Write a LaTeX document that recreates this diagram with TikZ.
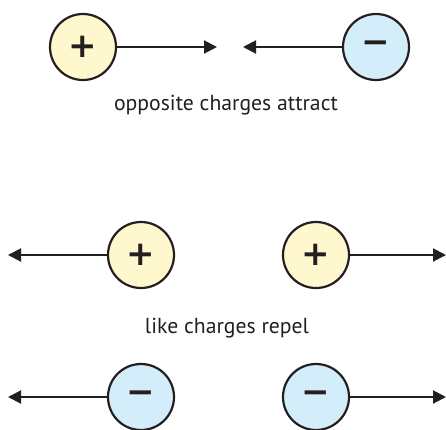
\documentclass[tikz,border=0pt]{standalone}
\usepackage{fontspec}
\setmainfont{PT Sans}
\newfontfamily\signfont{DejaVu Sans}
\usetikzlibrary{arrows.meta}
\definecolor{posfill}{HTML}{FFF8CF}
\definecolor{negfill}{HTML}{D3EDFA}
\definecolor{ink}{HTML}{231F20}
\begin{document}
\begin{tikzpicture}[x=1pt,y=-1pt,
  charge/.style={circle,draw=ink,line width=2.2pt,minimum size=66pt,inner sep=0pt,text=ink,
    font=\signfont\bfseries\fontsize{34}{34}\selectfont},
  posc/.style={charge,fill=posfill},
  negc/.style={charge,fill=negfill},
  force/.style={draw=ink,line width=2pt,-{Triangle[length=13pt,width=13pt]}},
  lbl/.style={text=ink,font=\fontsize{21.7}{24}\selectfont}]
\useasboundingbox (0,0) rectangle (446,429);
% attraction
\node[posc] (p1) at (83,47) {+};
\node[negc] (n1) at (376,47) {−};
\coordinate (t1) at (217,47);
\coordinate (t2) at (243,47);
\draw[force] (p1) -- (t1);
\draw[force] (n1) -- (t2);
\node[lbl] (l1) at (226,105) {opposite charges attract};
% repulsion, positive
\node[posc] (p2) at (141,255) {+};
\node[posc] (p3) at (316,255) {+};
\coordinate (t3) at (8,255);
\coordinate (t4) at (446,255);
\draw[force] (p2) -- (t3);
\draw[force] (p3) -- (t4);
\node[lbl] (l2) at (227,328) {like charges repel};
% repulsion, negative
\node[negc] (n2) at (141,397) {−};
\node[negc] (n3) at (316,397) {−};
\coordinate (t5) at (8,397);
\coordinate (t6) at (446,397);
\draw[force] (n2) -- (t5);
\draw[force] (n3) -- (t6);
\end{tikzpicture}
\end{document}
